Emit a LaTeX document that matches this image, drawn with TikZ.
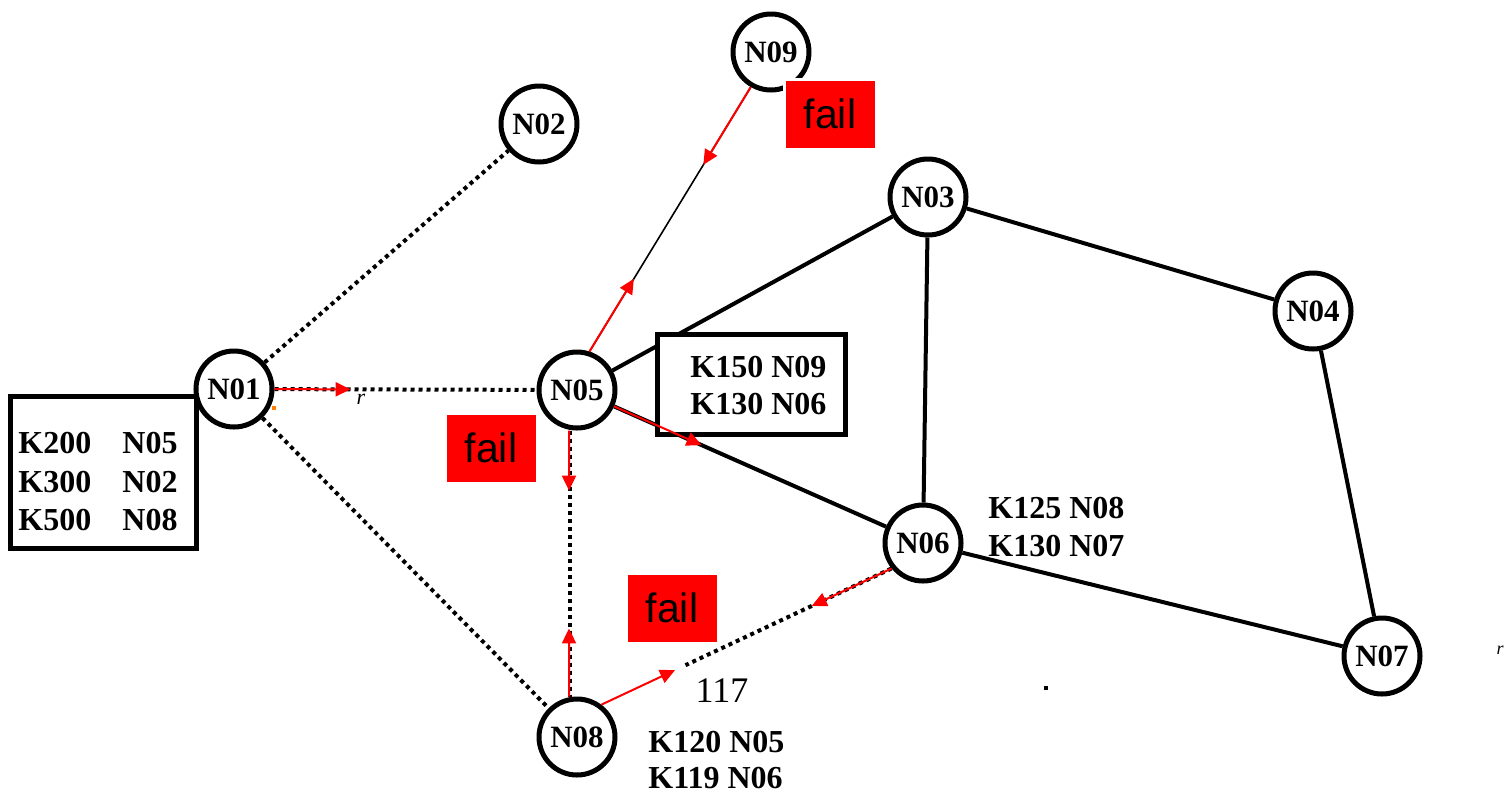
\documentclass[tikz,border=0pt]{standalone}
\usepackage{fontspec}
\setmainfont{Liberation Serif}
\setsansfont{Liberation Sans}
\usetikzlibrary{arrows.meta,calc,backgrounds}
\begin{document}
\begin{tikzpicture}[x=0.5pt,y=-0.5pt,
  netnode/.style={circle,draw,line width=2.5pt,fill=white,minimum size=38pt,inner sep=0pt,
    font=\fontsize{15.5}{16}\selectfont\bfseries},
  tablebox/.style={draw,line width=2.5pt,fill=white,inner sep=0pt},
  link/.style={line width=2pt},
  thinlink/.style={line width=0.8pt},
  dotlink/.style={line width=2pt,dash pattern=on 2pt off 2pt},
  redarrow/.style={red,line width=1pt,-{Triangle[length=7.5pt,width=7pt]}},
  failbox/.style={fill=red,draw=white,line width=1.5pt,minimum width=46pt,minimum height=35pt,
    inner sep=0pt,font=\sffamily\fontsize{20.5}{22}\selectfont},
  tabletext/.style={anchor=west,inner sep=0pt,font=\fontsize{16}{19.5}\selectfont\bfseries},
]
\useasboundingbox (0,0) rectangle (1505,794);

% routing tables
\node[tablebox,minimum width=93pt,minimum height=76pt] (T01) at (103,472) {};
\node[tabletext] (t01a) at (18,443) {K200};
\node[tabletext] (t01b) at (122,443) {N05};
\node[tabletext] (t01c) at (18,482) {K300};
\node[tabletext] (t01d) at (122,482) {N02};
\node[tabletext] (t01e) at (18,520) {K500};
\node[tabletext] (t01f) at (122,520) {N08};

\node[tablebox,minimum width=94pt,minimum height=50pt] (T05) at (751,384) {};
\node[tabletext] (t05a) at (690,367) {K150 N09};
\node[tabletext] (t05b) at (690,404) {K130 N06};

\node[tabletext] (t06a) at (988,508) {K125 N08};
\node[tabletext] (t06b) at (988,546) {K130 N07};

\node[tabletext] (t08a) at (648,742) {K120 N05};
\node[tabletext] (t08b) at (648,778) {K119 N06};

% network nodes
\node[netnode] (N01) at (234,389) {N01};
\node[netnode] (N02) at (539,124) {N02};
\node[netnode] (N03) at (928,197) {N03};
\node[netnode] (N04) at (1313,311) {N04};
\node[netnode] (N05) at (577,390) {N05};
\node[netnode] (N06) at (923,543) {N06};
\node[netnode] (N07) at (1382,656) {N07};
\node[netnode] (N08) at (577,737) {N08};
\node[netnode] (N09) at (771,52) {N09};

% failure markers
\node[failbox] (F09) at (830,114) {fail};
\node[failbox] (F05) at (491,448) {fail};
\node[failbox] (F08) at (672,608) {fail};

% labels
\node[inner sep=0pt,font=\itshape\fontsize{11}{11}\selectfont] (lr) at (361,399) {r};
\node[inner sep=0pt,font=\fontsize{18}{18}\selectfont] (l117) at (722,691) {117};
\node[inner sep=0pt,font=\itshape\fontsize{9}{9}\selectfont] (lr2) at (1500,650) {r};
\fill[orange] (272,406) rectangle (276,410);
\fill[black] (1044,686) rectangle (1048,690);

\begin{pgfonlayer}{background}
  % links
  \draw[dotlink] (N01) -- (N02);
  \draw[dotlink] (N01) -- (N05);
  \draw[dotlink] (N01) -- (N08);
  \draw[dotlink] ([xshift=-3.5pt]N05.south) -- ([xshift=-3.5pt]N08.north);
  \draw[dotlink] (N06.219) -- ($(N06.219)!0.71!(N08.53)$);
  \draw[thinlink] (N05.72) -- (N09.240);
  \draw[link] (N05) -- (N03);
  \draw[link] (N05) -- (N06);
  \draw[link] (N03) -- (N04);
  \draw[link] (N03) -- (N06);
  \draw[link] (N04) -- (N07);
  \draw[link] (N06) -- (N07);
\end{pgfonlayer}

% messages
\draw[redarrow] (N01) -- ($(N01)!0.34!(N05)$);
\draw[redarrow] (N05.72) -- ($(N05.72)!0.275!(N09.240)$);
\draw[redarrow] (N09.240) -- ($(N09.240)!0.294!(N05.72)$);
\draw[redarrow] (N05) -- ($(N05)!0.36!(N06)$);
\draw[redarrow] ([xshift=-4pt]N05.south) -- ($([xshift=-4pt]N05.south)!0.226!([xshift=-4pt]N08.north)$);
\draw[redarrow] ([xshift=-4pt]N08.north) -- ($([xshift=-4pt]N08.north)!0.256!([xshift=-4pt]N05.south)$);
\draw[redarrow] (N06.219) -- ($(N06.219)!0.275!(N08.53)$);
\draw[redarrow] (N08.53) -- ($(N08.53)!0.254!(N06.219)$);
\end{tikzpicture}
\end{document}
